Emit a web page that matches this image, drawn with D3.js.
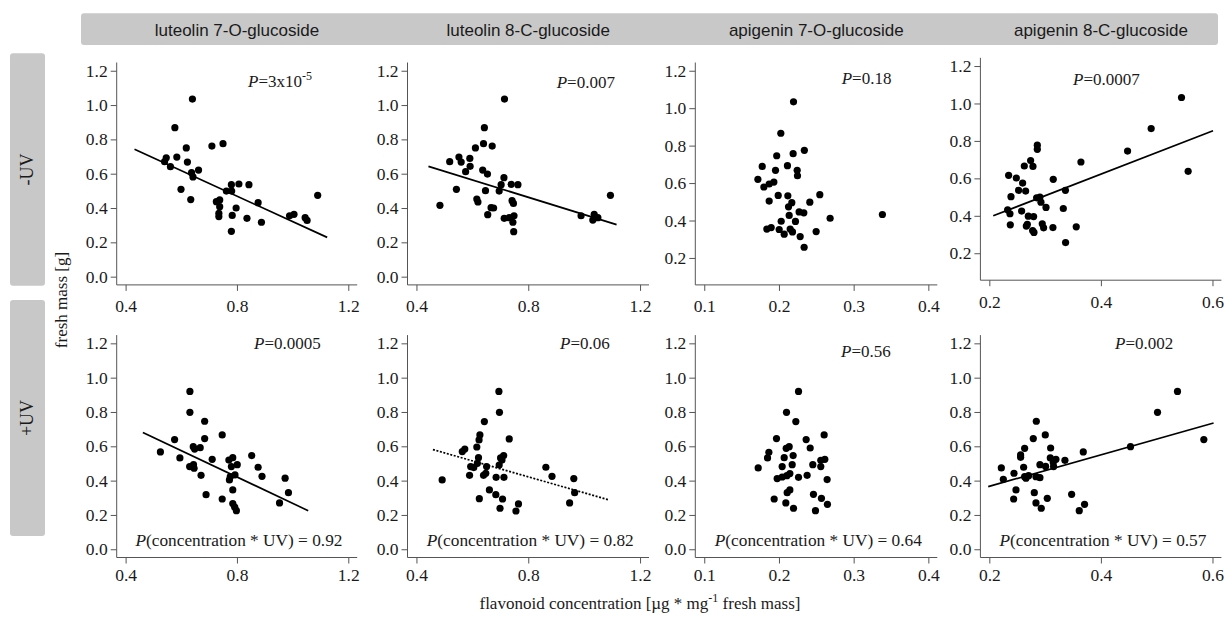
<!DOCTYPE html>
<html>
<head>
<meta charset="utf-8">
<script src="https://cdn.jsdelivr.net/npm/d3@7"></script>
<style>
  body { margin: 0; background: #fff; }
  svg { display: block; }
</style>
</head>
<body>
<div id="chart"></div>
<script>
// compounds (columns) and treatments (rows)
const compounds = ["luteolin 7-O-glucoside", "luteolin 8-C-glucoside", "apigenin 7-O-glucoside", "apigenin 8-C-glucoside"];
const treatments = ["-UV", "+UV"];

// tick labels
const xTicks = [[0.4, 0.8, 1.2], [0.4, 0.8, 1.2], [0.1, 0.2, 0.3, 0.4], [0.2, 0.4, 0.6]];
const yTicksFull = [0.0, 0.2, 0.4, 0.6, 0.8, 1.0, 1.2];
const yTicksShort = [0.2, 0.4, 0.6, 0.8, 1.0, 1.2];

// points [concentration, fresh mass] -UV
const lut7_minus = [[0.640,1.035],[0.577,0.868],[0.750,0.775],[0.710,0.761],[0.618,0.750],[0.546,0.693],[0.584,0.697],
  [0.540,0.670],[0.622,0.668],[0.561,0.641],[0.662,0.621],[0.637,0.606],[0.642,0.581],[0.599,0.509],[0.634,0.449],
  [0.780,0.536],[0.807,0.540],[0.843,0.536],[0.762,0.499],[0.781,0.499],[0.726,0.437],[0.738,0.447],[0.797,0.400],
  [0.738,0.408],[0.735,0.369],[0.735,0.350],[0.783,0.357],[0.836,0.340],[0.876,0.431],[0.888,0.317],[0.780,0.264],
  [0.989,0.355],[1.005,0.363],[1.045,0.344],[1.052,0.328],[1.090,0.474]];
const lut8_minus = [[0.715,1.035],[0.643,0.868],[0.640,0.775],[0.671,0.761],[0.611,0.750],[0.519,0.670],[0.552,0.697],
  [0.560,0.668],[0.591,0.689],[0.592,0.643],[0.576,0.612],[0.637,0.621],[0.654,0.598],[0.713,0.577],[0.703,0.536],
  [0.739,0.538],[0.763,0.536],[0.543,0.509],[0.647,0.501],[0.696,0.499],[0.484,0.416],[0.616,0.452],[0.620,0.435],
  [0.742,0.443],[0.747,0.427],[0.667,0.402],[0.676,0.400],[0.655,0.361],[0.714,0.340],[0.732,0.344],[0.749,0.355],
  [0.745,0.317],[0.748,0.262],[0.989,0.355],[1.036,0.363],[1.031,0.330],[1.049,0.344],[1.094,0.474]];
const api7_minus = [[0.2195,1.034],[0.2025,0.866],[0.234,0.775],[0.219,0.757],[0.197,0.746],[0.1776,0.689],[0.2114,0.693],
  [0.1954,0.668],[0.2244,0.668],[0.2248,0.639],[0.1718,0.620],[0.1798,0.579],[0.1869,0.595],[0.1932,0.605],[0.1990,0.534],
  [0.2119,0.532],[0.2547,0.538],[0.1869,0.504],[0.2172,0.495],[0.2413,0.498],[0.2128,0.473],[0.2270,0.446],[0.2333,0.441],
  [0.2137,0.427],[0.2685,0.412],[0.2030,0.396],[0.2221,0.395],[0.1838,0.354],[0.1896,0.362],[0.2003,0.352],[0.2070,0.327],
  [0.2150,0.354],[0.2181,0.339],[0.2284,0.314],[0.2498,0.341],[0.2337,0.257],[0.3385,0.432]];
const api8_minus = [[0.5445,1.032],[0.4901,0.866],[0.4478,0.746],[0.5564,0.6375],[0.3642,0.6875],[0.2860,0.777],[0.2860,0.755],
  [0.2740,0.695],[0.2627,0.666],[0.2782,0.664],[0.2346,0.616],[0.2484,0.602],[0.2597,0.575],[0.3146,0.595],[0.2525,0.536],
  [0.2651,0.532],[0.3364,0.536],[0.2388,0.502],[0.2848,0.496],[0.2907,0.500],[0.2925,0.473],[0.3016,0.445],[0.3326,0.439],
  [0.2328,0.432],[0.2370,0.411],[0.2579,0.425],[0.2699,0.398],[0.2794,0.396],[0.2376,0.352],[0.2681,0.354],[0.2663,0.345],
  [0.2949,0.357],[0.2973,0.336],[0.2800,0.311],[0.3140,0.337],[0.3558,0.341],[0.3367,0.257],[0.2776,0.321]];

// points +UV
const lut7_plus = [[0.631,0.920],[0.631,0.798],[0.684,0.746],[0.747,0.666],[0.684,0.645],[0.576,0.639],[0.643,0.598],
  [0.668,0.592],[0.648,0.584],[0.525,0.567],[0.853,0.546],[0.785,0.534],[0.711,0.524],[0.771,0.520],[0.595,0.532],
  [0.801,0.493],[0.630,0.482],[0.644,0.493],[0.646,0.472],[0.876,0.478],[0.780,0.482],[0.671,0.431],[0.793,0.433],
  [0.776,0.423],[0.890,0.425],[0.773,0.404],[0.973,0.414],[0.785,0.346],[0.689,0.318],[0.747,0.293],[0.985,0.330],
  [0.953,0.270],[0.785,0.266],[0.792,0.245],[0.798,0.225]];
const lut8_plus = [[0.695,0.920],[0.697,0.798],[0.643,0.744],[0.732,0.643],[0.627,0.666],[0.624,0.637],[0.573,0.584],
  [0.564,0.569],[0.616,0.596],[0.712,0.546],[0.701,0.532],[0.622,0.534],[0.706,0.520],[0.618,0.501],[0.651,0.482],
  [0.594,0.482],[0.605,0.476],[0.696,0.491],[0.863,0.478],[0.590,0.431],[0.640,0.431],[0.648,0.443],[0.492,0.404],
  [0.685,0.419],[0.713,0.419],[0.885,0.425],[0.963,0.412],[0.661,0.346],[0.684,0.318],[0.625,0.295],[0.708,0.293],
  [0.966,0.330],[0.948,0.270],[0.765,0.264],[0.699,0.239],[0.756,0.223]];
const api7_plus = [[0.2262,0.920],[0.2101,0.798],[0.2226,0.744],[0.1967,0.645],[0.2364,0.639],[0.2605,0.666],[0.2137,0.598],
  [0.2097,0.588],[0.2418,0.590],[0.1865,0.565],[0.1847,0.532],[0.2070,0.534],[0.2190,0.546],[0.2614,0.524],[0.2560,0.518],
  [0.2560,0.482],[0.1722,0.474],[0.2043,0.482],[0.2177,0.493],[0.2453,0.493],[0.1976,0.412],[0.2043,0.421],[0.2106,0.429],
  [0.2146,0.441],[0.2262,0.419],[0.2377,0.431],[0.2645,0.406],[0.2146,0.346],[0.2110,0.330],[0.1936,0.293],[0.2462,0.320],
  [0.2569,0.297],[0.2092,0.270],[0.2195,0.239],[0.2649,0.262],[0.2489,0.225]];
const api8_plus = [[0.5373,0.920],[0.5015,0.798],[0.5845,0.639],[0.4531,0.598],[0.2842,0.746],[0.3003,0.666],[0.2788,0.645],
  [0.3099,0.590],[0.2633,0.588],[0.2561,0.550],[0.2561,0.536],[0.3684,0.567],[0.3093,0.532],[0.3194,0.524],[0.3355,0.518],
  [0.2215,0.474],[0.2615,0.478],[0.2907,0.493],[0.3009,0.483],[0.3152,0.482],[0.3146,0.505],[0.2442,0.443],[0.2633,0.423],
  [0.2704,0.429],[0.2251,0.408],[0.2657,0.414],[0.2836,0.423],[0.2907,0.417],[0.2478,0.346],[0.2806,0.330],[0.2436,0.293],
  [0.3039,0.297],[0.3475,0.320],[0.2836,0.270],[0.2931,0.239],[0.3707,0.262],[0.3612,0.225]];

// fitted lines [x0, y0, x1, y1], null = none
const fitMinus = [[0.432,0.742,1.124,0.229],[0.443,0.643,1.116,0.303],null,[0.207,0.400,0.601,0.854]];
const fitPlus = [[0.462,0.680,1.056,0.225],[0.459,0.581,1.090,0.287],null,[0.198,0.365,0.602,0.736]];
const fitDashed = [[false,false,false,false],[false,true,false,false]];

// P values
const pMinus = ["3x10", "0.007", "0.18", "0.0007"];
const pMinusExp = ["-5", null, null, null];
const pPlus = ["0.0005", "0.06", "0.56", "0.002"];
const pInteraction = ["0.92", "0.82", "0.64", "0.57"];

const points = [[lut7_minus, lut8_minus, api7_minus, api8_minus], [lut7_plus, lut8_plus, api7_plus, api8_plus]];
const fits = [fitMinus, fitPlus];

const width = 1229, height = 617;
const serif = "'Liberation Serif', 'Times New Roman', serif";
const sans = "'Liberation Sans', Arial, sans-serif";
const axisCol = "#555", textCol = "#1a1a1a";

const colLeft = [116.7, 407.5, 695.3, 980.4];
const panelW = [240.5, 241.5, 242, 241];
const rowTop = [62.5, 335.1];
const panelH = 222.4;
const xLabelPad = [9, 5];

const svg = d3.select("#chart").append("svg")
  .attr("width", width).attr("height", height);

// header strip
svg.append("rect").attr("x", 81).attr("y", 13.3).attr("width", 1137).attr("height", 31.7)
  .attr("rx", 3).attr("fill", "#c8c8c8");

// row strips
const stripY = [[53.3, 232.5], [300, 236]];
treatments.forEach((t, r) => {
  svg.append("rect").attr("x", 10).attr("y", stripY[r][0]).attr("width", 35).attr("height", stripY[r][1])
    .attr("rx", 3).attr("fill", "#c8c8c8");
  const cy = stripY[r][0] + stripY[r][1] / 2;
  svg.append("text").attr("transform", `translate(33,${cy}) rotate(-90)`)
    .attr("text-anchor", "middle").attr("font-family", serif).attr("font-size", 18)
    .attr("fill", textCol).text(t);
});

function extend(lo, hi) {
  const d = (hi - lo) * 0.04;
  return [lo - d, hi + d];
}

// P label positions (start x, baseline)
const pPos = [[[248, 87], [556.7, 88], [841.7, 83.5], [1073, 85]],
              [[254, 349.3], [560, 349.3], [841, 356.7], [1115, 349.3]]];

treatments.forEach((t, r) => {
  compounds.forEach((c, k) => {
    const shift = (r === 0 && k === 3) ? -4.7 : 0;
    const top = rowTop[r] + shift, bottom = top + panelH;
    const left = colLeft[k], right = left + panelW[k];
    const xt = xTicks[k];
    const x = d3.scaleLinear(extend(xt[0], xt[xt.length - 1]), [left, right]);
    const yt = (r === 0 && k >= 2) ? yTicksShort : yTicksFull;
    const yDom = (r === 0 && k >= 2) ? extend(0.1, 1.2) : extend(0, 1.2);
    const y = d3.scaleLinear(yDom, [bottom, top]);

    const g = svg.append("g");

    // L-shaped frame via axes
    const ax = g.append("g").attr("transform", `translate(0,${bottom})`)
      .call(d3.axisBottom(x).tickValues(xt).tickSize(6).tickPadding(xLabelPad[r]).tickFormat(d3.format(".1f")));
    ax.select(".domain").attr("d", `M${left},0H${right}`);
    const ay = g.append("g").attr("transform", `translate(${left},0)`)
      .call(d3.axisLeft(y).tickValues(yt).tickSize(6).tickPadding(3).tickFormat(d3.format(".1f")));
    ay.select(".domain").attr("d", `M0,${top}V${bottom}`);
    [ax, ay].forEach(a => {
      a.select(".domain").attr("stroke", axisCol);
      a.selectAll(".tick line").attr("stroke", axisCol);
      a.selectAll(".tick text").attr("font-family", serif).attr("font-size", 17.5).attr("fill", textCol);
    });

    // fit line
    const f = fits[r][k];
    if (f) {
      g.append("line")
        .attr("x1", x(f[0])).attr("y1", y(f[1])).attr("x2", x(f[2])).attr("y2", y(f[3]))
        .attr("stroke", "#000").attr("stroke-width", 1.7)
        .attr("stroke-dasharray", fitDashed[r][k] ? "2,1.6" : null);
    }

    // points
    g.selectAll("circle").data(points[r][k]).join("circle")
      .attr("cx", d => x(d[0])).attr("cy", d => y(d[1])).attr("r", 3.6).attr("fill", "#000");

    // P value
    const pv = r === 0 ? pMinus[k] : pPlus[k];
    const pt = g.append("text").attr("x", pPos[r][k][0]).attr("y", pPos[r][k][1])
      .attr("font-family", serif).attr("font-size", 17).attr("fill", textCol);
    pt.append("tspan").attr("font-style", "italic").text("P");
    pt.append("tspan").text("=" + pv);
    if (r === 0 && pMinusExp[k]) {
      pt.append("tspan").attr("font-size", 12).attr("dy", -7).text(pMinusExp[k]);
    }

    // interaction P
    if (r === 1) {
      const it = g.append("text").attr("x", (left + right) / 2 + 2).attr("y", 546)
        .attr("text-anchor", "middle").attr("font-family", serif).attr("font-size", 17.3).attr("fill", textCol);
      it.append("tspan").attr("font-style", "italic").text("P");
      it.append("tspan").text("(concentration * UV) = " + pInteraction[k]);
    }
  });
});

// header labels
compounds.forEach((c, k) => {
  svg.append("text").attr("x", colLeft[k] + panelW[k] / 2).attr("y", 35.5)
    .attr("text-anchor", "middle").attr("font-family", sans).attr("font-size", 17)
    .attr("fill", textCol).text(c);
});

// axis titles
svg.append("text").attr("transform", "translate(67,300) rotate(-90)")
  .attr("text-anchor", "middle").attr("font-family", serif).attr("font-size", 17)
  .attr("fill", textCol).text("fresh mass [g]");

const xt = svg.append("text").attr("x", 640).attr("y", 609)
  .attr("text-anchor", "middle").attr("font-family", serif).attr("font-size", 17).attr("fill", textCol);
xt.append("tspan").text("flavonoid concentration [µg * mg");
xt.append("tspan").attr("font-size", 12).attr("dy", -7).text("-1");
xt.append("tspan").attr("dy", 7).text(" fresh mass]");
</script>
</body>
</html>
